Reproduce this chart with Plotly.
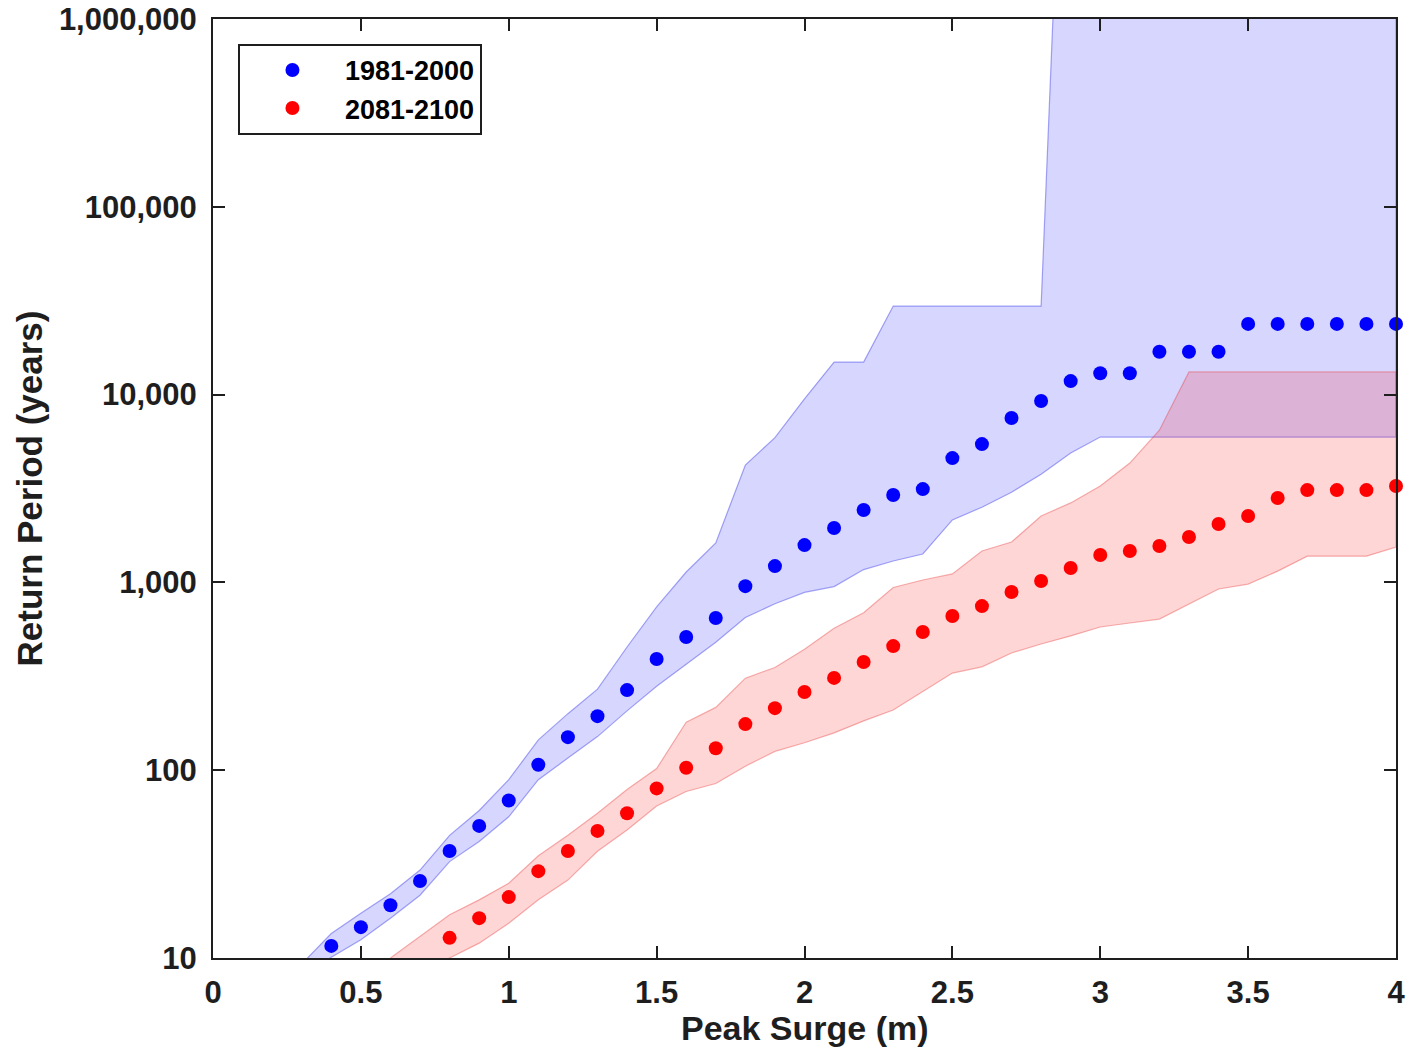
import plotly.graph_objects as go

# ---------------- data ----------------
blue_x = [0.4, 0.5, 0.6, 0.7, 0.8, 0.9, 1.0, 1.1, 1.2, 1.3, 1.4, 1.5, 1.6, 1.7, 1.8, 1.9, 2.0,
          2.1, 2.2, 2.3, 2.4, 2.5, 2.6, 2.7, 2.8, 2.9, 3.0, 3.1, 3.2, 3.3, 3.4, 3.5, 3.6, 3.7,
          3.8, 3.9, 4.0]
blue_rp = [11.6, 14.6, 19.1, 25.7, 37.1, 50.5, 69, 107, 150, 194, 267, 391, 512, 646, 955, 1221,
           1580, 1950, 2430, 2920, 3140, 4590, 5450, 7500, 9240, 11800, 13000, 13000, 16900,
           16900, 16900, 23800, 23800, 23800, 23800, 23800, 23800]

red_x = [0.8, 0.9, 1.0, 1.1, 1.2, 1.3, 1.4, 1.5, 1.6, 1.7, 1.8, 1.9, 2.0, 2.1, 2.2, 2.3, 2.4,
         2.5, 2.6, 2.7, 2.8, 2.9, 3.0, 3.1, 3.2, 3.3, 3.4, 3.5, 3.6, 3.7, 3.8, 3.9, 4.0]
red_rp = [12.8, 16.3, 21.1, 29, 37.1, 47.5, 59, 80, 103, 131, 176, 214, 261, 310, 377, 458, 544,
          662, 748, 889, 1017, 1193, 1400, 1470, 1563, 1745, 2047, 2258, 2815, 3100, 3100, 3100,
          3260]

blue_band_x = [0.3, 0.4, 0.5, 0.6, 0.7, 0.8, 0.9, 1.0, 1.1, 1.2, 1.3, 1.4, 1.5, 1.6, 1.7, 1.8,
               1.9, 2.0, 2.1, 2.2, 2.3, 2.4, 2.5, 2.6, 2.7, 2.8, 2.9, 3.0, 3.1, 3.2, 3.3, 3.4,
               3.5, 3.6, 3.7, 3.8, 3.9, 4.0]
blue_upper = [9.3, 13.5, 17.3, 22, 29.4, 45, 61, 89, 145, 200, 270, 453, 740, 1136, 1622, 4220,
              5900, 9500, 14900, 14900, 29600, 29600, 29600, 29600, 29600, 29600,
              2e8, 2e8, 2e8, 2e8, 2e8, 2e8, 2e8, 2e8, 2e8, 2e8, 2e8, 2e8]
blue_lower = [7.9, 10.1, 12.5, 16.3, 21.6, 32.6, 41.7, 56.5, 89, 116, 151, 207, 280, 365, 480,
              650, 770, 885, 950, 1170, 1300, 1417, 2150, 2515, 3020, 3770, 4890,
              5940, 5940, 5940, 5940, 5940, 5940, 5940, 5940, 5940, 5940, 5940]

red_band_x = [0.6, 0.7, 0.8, 0.9, 1.0, 1.1, 1.2, 1.3, 1.4, 1.5, 1.6, 1.7, 1.8, 1.9, 2.0, 2.1,
              2.2, 2.3, 2.4, 2.5, 2.6, 2.7, 2.8, 2.9, 3.0, 3.1, 3.2, 3.3, 3.4, 3.5, 3.6, 3.7,
              3.8, 3.9, 4.0]
red_upper = [10, 13, 17, 20.4, 25, 35, 45, 59, 79, 102, 180, 216, 309, 352, 440, 570, 690, 940,
             1030, 1109, 1470, 1640, 2258, 2650, 3260, 4320, 6460,
             13200, 13200, 13200, 13200, 13200, 13200, 13200, 13200]
red_lower = [6.5, 8.1, 10, 12, 15.3, 20.4, 26, 37, 48, 64.5, 77, 85, 105, 126, 140, 158, 183,
             209, 261, 329, 355, 421, 470, 519, 579, 608, 638, 767, 922, 980, 1148, 1380, 1380,
             1380, 1542]

y_tickvals = [10, 100, 1000, 10000, 100000, 1000000]
y_ticktext = ["10", "100", "1,000", "10,000", "100,000", "1,000,000"]
x_tickvals = [0, 0.5, 1, 1.5, 2, 2.5, 3, 3.5, 4]
x_ticktext = ["0", "0.5", "1", "1.5", "2", "2.5", "3", "3.5", "4"]

series_names = ["1981-2000", "2081-2100"]

# ---------------- figure ----------------
INK = "rgb(30,30,30)"
FONT = "Liberation Sans, Arial, sans-serif"

fig = go.Figure()

fig.add_trace(go.Scatter(
    x=blue_band_x + blue_band_x[::-1],
    y=blue_upper + blue_lower[::-1],
    fill="toself", fillcolor="rgba(0,0,255,0.16)",
    line=dict(color="rgba(60,60,230,0.45)", width=1.2),
    mode="lines", showlegend=False, hoverinfo="skip"))

fig.add_trace(go.Scatter(
    x=red_band_x + red_band_x[::-1],
    y=red_upper + red_lower[::-1],
    fill="toself", fillcolor="rgba(255,0,0,0.16)",
    line=dict(color="rgba(230,60,60,0.4)", width=1.2),
    mode="lines", showlegend=False, hoverinfo="skip"))

fig.add_trace(go.Scatter(
    x=blue_x, y=blue_rp, mode="markers", name=series_names[0],
    marker=dict(color="rgb(0,0,255)", size=14), cliponaxis=False))

fig.add_trace(go.Scatter(
    x=red_x, y=red_rp, mode="markers", name=series_names[1],
    marker=dict(color="rgb(255,0,0)", size=14), cliponaxis=False))

tickfont = dict(family=FONT, size=31, color=INK, weight="bold")

fig.update_xaxes(
    range=[0, 4], tickvals=x_tickvals, ticktext=x_ticktext, automargin=False,
    showline=True, mirror="allticks", linecolor=INK, linewidth=2,
    ticks="inside", ticklen=12, tickwidth=2, tickcolor=INK,
    showgrid=False, zeroline=False, tickfont=tickfont, ticklabelstandoff=6)

fig.update_yaxes(
    type="log", range=[1, 6], tickvals=y_tickvals, ticktext=y_ticktext, automargin=False,
    showline=True, mirror="allticks", linecolor=INK, linewidth=2,
    ticks="inside", ticklen=12, tickwidth=2, tickcolor=INK,
    showgrid=False, zeroline=False, tickfont=tickfont, ticklabelstandoff=8)

fig.update_layout(
    width=1409, height=1060,
    margin=dict(l=213, r=13, t=19, b=102, autoexpand=False),
    paper_bgcolor="white", plot_bgcolor="white",
    legend=dict(
        x=0.0211, y=0.9735, xanchor="left", yanchor="top",
        bgcolor="white", bordercolor=INK, borderwidth=2,
        font=dict(family=FONT, size=27, color="black", weight="bold"),
        itemwidth=95, tracegroupgap=0),
    annotations=[
        dict(text="Peak Surge (m)", xref="paper", yref="paper", x=0.5, y=-0.0745,
             xanchor="center", yanchor="middle", showarrow=False,
             font=dict(family=FONT, size=34, color=INK, weight="bold")),
        dict(text="Return Period (years)", xref="paper", yref="paper", x=-0.1547, y=0.5,
             xanchor="center", yanchor="middle", showarrow=False, textangle=-90,
             font=dict(family=FONT, size=35, color=INK, weight="bold")),
    ],
)

fig.write_html(
    "out.html",
    config={"displayModeBar": False},
    post_script="document.body.style.margin='0';document.body.style.overflow='hidden';")
